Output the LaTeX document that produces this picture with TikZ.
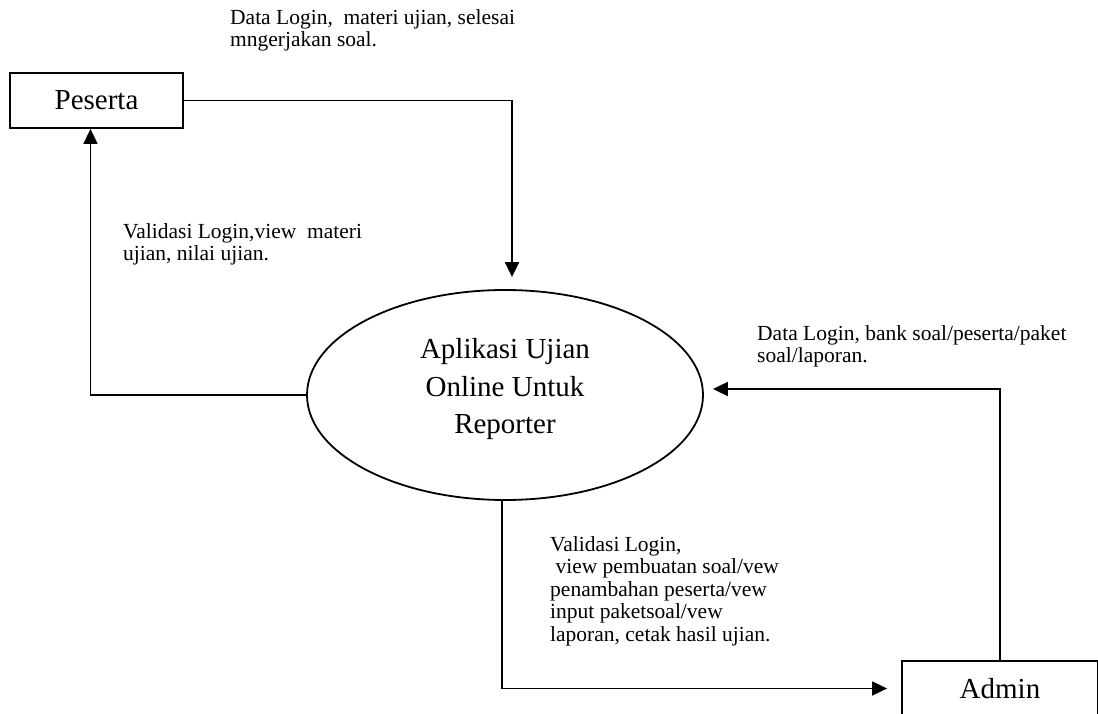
\documentclass[tikz,border=0pt]{standalone}
\usepackage{fontspec}
\setmainfont{Liberation Serif}
\usetikzlibrary{shapes,arrows.meta}
\tikzstyle{entity} = [rectangle, draw, line width=1.8pt, minimum height=55pt,
    inner sep=0pt, font=\fontsize{29}{34}\selectfont]
\tikzstyle{process} = [ellipse, draw, line width=1.8pt, minimum width=396pt,
    minimum height=210pt, inner sep=0pt, text depth=18pt, align=center,
    font=\fontsize{29}{37.5}\selectfont]
\tikzstyle{flowtext} = [anchor=base west, inner sep=0pt, align=left,
    font=\fontsize{21.5}{22.5}\selectfont]
\tikzstyle{line} = [draw, line width=1.8pt, -{Triangle[length=15pt,width=14pt]}]

\begin{document}
\begin{tikzpicture}[x=1pt, y=1pt]
  \clip (0,0) rectangle (1098,713);
  \node [entity, minimum width=173pt] (peserta) at (96.5,612.5) {Peserta};
  \node [process, below of=peserta, node distance=294.5pt, xshift=408.5pt] (app) {Aplikasi Ujian\\Online Untuk\\Reporter};
  \node [entity, minimum width=196pt, below of=app, node distance=293.5pt, xshift=495pt] (admin) {Admin};
  % base anchor = baseline of the last line
  \node [flowtext] (in_peserta) at (230,666) {Data Login,~ materi ujian, selesai\\mngerjakan soal.};
  \node [flowtext] (out_peserta) at (123,452) {Validasi Login,view~ materi\\ujian, nilai ujian.};
  \node [flowtext] (in_admin) at (757,350) {Data Login, bank soal/peserta/paket\\soal/laporan.};
  \node [flowtext] (out_admin) at (550,72) {Validasi Login,\\~view pembuatan soal/vew\\penambahan peserta/vew\\input paketsoal/vew\\laporan, cetak hasil ujian.};
  \path [line, shorten >=12pt] (peserta.east) -| ([xshift=7pt]app.north);
  \path [line] (app.west) -| ([xshift=-6pt]peserta.south);
  \path [line, shorten >=9pt] (admin.north) |- ([yshift=6pt]app.east);
  \path [line, shorten >=14pt] ([xshift=-3pt]app.south) |- (admin.west);
\end{tikzpicture}
\end{document}
